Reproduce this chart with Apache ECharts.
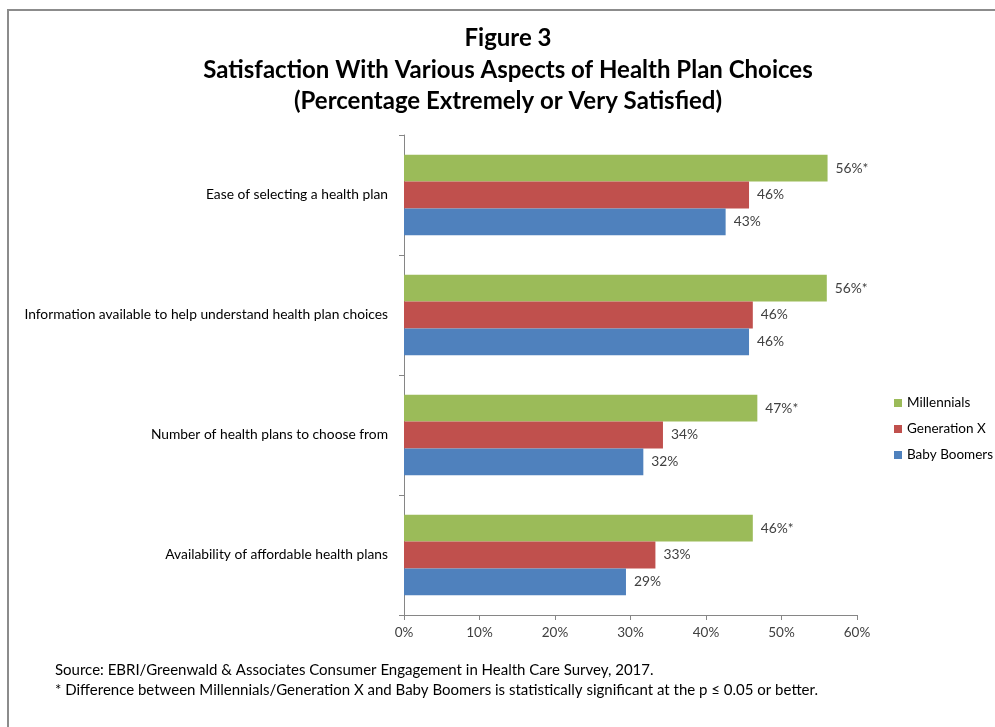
<!DOCTYPE html>
<html>
<head>
<meta charset="utf-8">
<script src="https://cdn.jsdelivr.net/npm/echarts@6/dist/echarts.min.js"></script>
<style>
html,body{margin:0;padding:0;background:#fff;}
#chart{width:995px;height:727px;}
</style>
</head>
<body>
<div id="chart"></div>
<script>
var categories = [
  'Ease of selecting a health plan',
  'Information available to help understand health plan choices',
  'Number of health plans to choose from',
  'Availability of affordable health plans'
];
var millennials = [56.1, 56.0, 46.8, 46.2];
var generationX = [45.7, 46.2, 34.3, 33.3];
var babyBoomers = [42.6, 45.7, 31.7, 29.4];
var millennialsSignificant = [true, true, true, true];
var xTicks = [0, 10, 20, 30, 40, 50, 60];
var titleLines = ['Figure 3', 'Satisfaction With Various Aspects of Health Plan Choices', '(Percentage Extremely or Very Satisfied)'];
var notes = [
  'Source: EBRI/Greenwald & Associates Consumer Engagement in Health Care Survey, 2017.',
  '* Difference between Millennials/Generation X and Baby Boomers is statistically significant at the p \u2264 0.05 or better.'
];

var FONT = 'Lato, "Open Sans", sans-serif';
var chart = echarts.init(document.getElementById('chart'), null, {renderer: 'canvas'});

function labelFmt(flags) {
  return function (p) {
    return Math.round(p.value) + '%' + (flags && flags[p.dataIndex] ? '*' : '');
  };
}

function barSeries(name, data, color, flags) {
  return {
    name: name,
    type: 'bar',
    data: data,
    barGap: '0%',
    barCategoryGap: '33%',
    itemStyle: {color: color},
    label: {
      show: true,
      position: 'right',
      distance: 8,
      color: '#404040',
      fontFamily: FONT,
      fontSize: 13.8,
      formatter: labelFmt(flags)
    }
  };
}

var graphics = [
  {type: 'polyline', shape: {points: [[8, 740], [8, 10], [1000, 10]]}, style: {stroke: '#8c8c8c', lineWidth: 2, fill: null}, silent: true}
];
var titleY = [38, 70, 101];
titleLines.forEach(function (t, i) {
  graphics.push({type: 'text', x: 508, y: titleY[i], style: {text: t, font: 'bold 24px ' + FONT, fill: '#000', align: 'center', verticalAlign: 'middle'}});
});
var noteY = [670, 690];
notes.forEach(function (t, i) {
  graphics.push({type: 'text', x: 55, y: noteY[i], style: {text: t, font: '15px ' + FONT, fill: '#000', align: 'left', verticalAlign: 'middle'}});
});

chart.setOption({
  animation: false,
  backgroundColor: '#fff',
  grid: {left: 404, right: 138, top: 135, bottom: 112, containLabel: false},
  legend: {
    data: ['Millennials', 'Generation X', 'Baby Boomers'],
    orient: 'vertical',
    left: 889,
    top: 391,
    itemWidth: 8,
    itemHeight: 8,
    itemGap: 12,
    icon: 'rect',
    textStyle: {fontFamily: FONT, fontSize: 13.5, color: '#000'}
  },
  xAxis: {
    type: 'value',
    min: xTicks[0],
    max: xTicks[xTicks.length - 1],
    interval: 10,
    axisLine: {show: true, lineStyle: {color: '#868686'}},
    axisTick: {show: true, length: 5, lineStyle: {color: '#868686'}},
    splitLine: {show: false},
    axisLabel: {fontFamily: FONT, fontSize: 13.5, color: '#404040', margin: 11, formatter: '{value}%'}
  },
  yAxis: {
    type: 'category',
    data: categories,
    inverse: true,
    axisLine: {show: true, lineStyle: {color: '#868686'}},
    axisTick: {show: true, length: 5, lineStyle: {color: '#868686'}},
    axisLabel: {fontFamily: FONT, fontSize: 13.8, color: '#000', margin: 16}
  },
  series: [
    barSeries('Millennials', millennials, '#9BBB59', millennialsSignificant),
    barSeries('Generation X', generationX, '#C0504D'),
    barSeries('Baby Boomers', babyBoomers, '#4F81BD')
  ],
  graphic: graphics
});
</script>
</body>
</html>
